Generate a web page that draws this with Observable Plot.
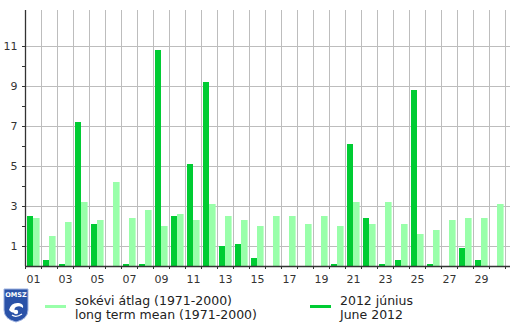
<!DOCTYPE html>
<html>
<head>
<meta charset="utf-8">
<script src="https://cdn.jsdelivr.net/npm/d3@7"></script>
<script src="https://cdn.jsdelivr.net/npm/@observablehq/plot@0.6"></script>
<style>
  body { margin: 0; background: #fff; font-family: "DejaVu Sans", sans-serif; }
  #wrap { position: relative; width: 520px; height: 326px; }
  #chart { position: absolute; left: 0; top: 0; }
  .leg { position: absolute; font-size: 12.5px; line-height: 14px; color: #222; white-space: nowrap; }
  .sw { position: absolute; height: 3px; width: 21px; }
  #logo { position: absolute; left: 3px; top: 288px; }
</style>
</head>
<body>
<div id="wrap">
  <div id="chart"></div>
  <svg id="logo" width="26" height="35" viewBox="0 0 26 35">
    <path d="M1,1 H25 V22 Q25,31 13,34 Q1,31 1,22 Z" fill="#2a52a8" stroke="#9fb3e0" stroke-width="1"/>
    <text x="13" y="9" text-anchor="middle" font-size="6.5" font-weight="bold" fill="#fff" font-family="DejaVu Sans">OMSZ</text>
    <path d="M6,22 Q8,14 16,15 Q21,16 20,20 Q17,17 13,19 Q10,21 13,24 Q9,26 6,22 Z" fill="#fff"/>
    <circle cx="13" cy="24" r="2.2" fill="#fff"/>
    <path d="M9,27 Q13,30 19,26" stroke="#fff" stroke-width="1.3" fill="none"/>
  </svg>
  <div class="sw" style="left:45px; top:305px; background:#99ffaa"></div>
  <div class="leg" style="left:75px; top:294px">sokévi átlag (1971-2000)<br>long term mean (1971-2000)</div>
  <div class="sw" style="left:310px; top:305px; background:#00cc33"></div>
  <div class="leg" style="left:340px; top:294px">2012 június<br>June 2012</div>
</div>
<script>
const days = d3.range(1, 31);
const june2012 = [2.5, 0.3, 0.1, 7.2, 2.1, 0, 0.1, 0.1, 10.8, 2.5, 5.1, 9.2, 1.0, 1.1, 0.4,
                  0, 0, 0, 0, 0.1, 6.1, 2.4, 0.1, 0.3, 8.8, 0.1, 0, 0.9, 0.3, 0];
const longTermMean = [2.4, 1.5, 2.2, 3.2, 2.3, 4.2, 2.4, 2.8, 2.0, 2.6, 2.3, 3.1, 2.5, 2.3, 2.0,
                      2.5, 2.5, 2.1, 2.5, 2.0, 3.2, 2.1, 3.2, 2.1, 1.6, 1.8, 2.3, 2.4, 2.4, 3.1];
const yTickLabels = [1, 3, 5, 7, 9, 11];
const yMinorTicks = [2, 4, 6, 8, 10];
const xTickLabels = days.filter(d => d % 2 === 1);

const rows = days.map((d, i) => ({day: d, june: june2012[i], mean: longTermMean[i]}));
const darkC = "#00cc33", lightC = "#99ffaa", gridC = "#bdbdbd", axisC = "#333";

const chart = Plot.plot({
  width: 520,
  height: 292,
  marginLeft: 25,
  marginRight: 10,
  marginTop: 10,
  marginBottom: 26,
  x: {type: "linear", domain: [0, 30.3125], axis: null},
  y: {domain: [0, 12.8], axis: null},
  style: {fontFamily: "DejaVu Sans, sans-serif", background: "#fff"},
  marks: [
    Plot.gridX(d3.range(0, 31), {stroke: gridC, strokeOpacity: 1, strokeWidth: 1}),
    Plot.gridY(yTickLabels, {stroke: gridC, strokeOpacity: 1, strokeWidth: 1}),
    Plot.rectY(rows, {x1: d => d.day - 1 + 2/16, x2: d => d.day - 1 + 8/16, y1: 0, y2: "june", fill: darkC, insetLeft: 0, insetRight: 0}),
    Plot.rectY(rows, {x1: d => d.day - 1 + 8/16, x2: d => d.day - 1 + 14.6/16, y1: 0, y2: "mean", fill: lightC, insetLeft: 0, insetRight: 0}),
    Plot.ruleX([0], {stroke: axisC, strokeWidth: 1.3}),
    Plot.ruleY([0], {stroke: axisC, strokeWidth: 1.3}),
    Plot.axisY({ticks: yTickLabels, tickSize: 3, tickPadding: 5, fontSize: 11, color: axisC, stroke: axisC}),
    Plot.axisY({ticks: yMinorTicks, tickSize: 3, tickFormat: () => "", stroke: axisC}),
    Plot.axisX({ticks: d3.range(0, 31), tickSize: 3, tickFormat: () => "", stroke: axisC}),
    Plot.axisX({ticks: xTickLabels.map(d => d - 0.5), tickSize: 0, tickPadding: 9, fontSize: 11, color: axisC,
                tickFormat: v => String(Math.round(v + 0.5)).padStart(2, "0")})
  ]
});
document.getElementById("chart").appendChild(chart);
</script>
</body>
</html>
